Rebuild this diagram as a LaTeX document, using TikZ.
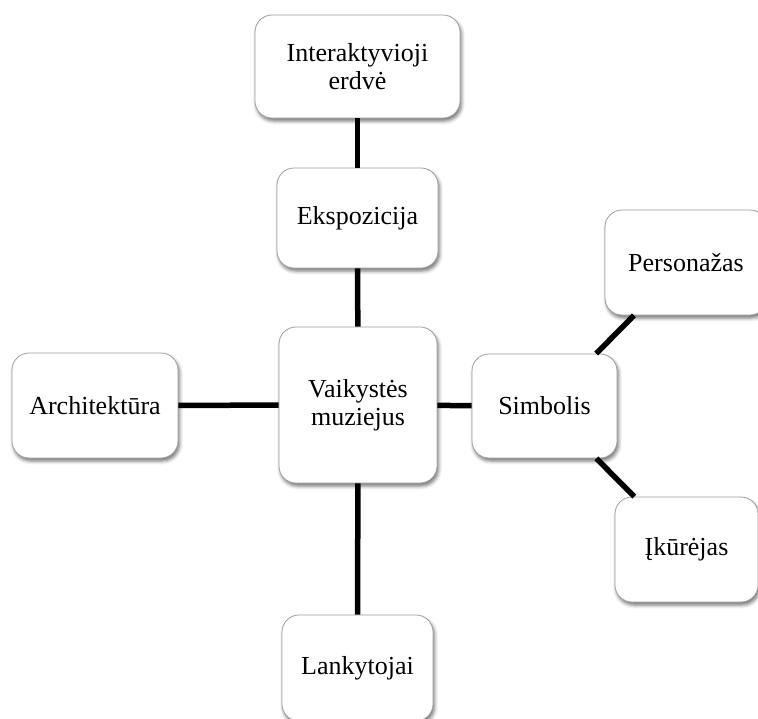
\documentclass[tikz,border=0pt]{standalone}
\usepackage{fontspec}
\setmainfont{Liberation Serif}
\usetikzlibrary{shadows.blur}
\begin{document}
\begin{tikzpicture}[x=1pt,y=-1pt,
  topic/.style={draw=gray!75, line width=0.8pt, fill=white, rounded corners=17pt,
    rectangle, inner sep=0pt, align=center,
    font=\fontsize{26}{27.5}\selectfont,
    blur shadow={shadow xshift=1.5pt, shadow yshift=-3pt, shadow blur radius=3.5pt, shadow opacity=55}},
  link/.style={line width=5.5pt, black}]
\useasboundingbox (0,0) rectangle (758,718);
\clip (0,0) rectangle (758,718);
% nodes of the map
\node[topic, minimum width=205pt, minimum height=103pt] (inter) at (357.5,66.5) {Interaktyvioji\\erdvė};
\node[topic, minimum width=161pt, minimum height=100pt] (ekspo) at (357.5,218) {Ekspozicija};
\node[topic, minimum width=158pt, minimum height=156pt] (vaik) at (358,405) {Vaikystės\\muziejus};
\node[topic, minimum width=166pt, minimum height=105pt] (arch) at (95,405.5) {Architektūra};
\node[topic, minimum width=145pt, minimum height=104pt] (simb) at (544.5,406) {Simbolis};
\node[topic, minimum width=162pt, minimum height=105pt] (pers) at (686,262.5) {Personažas};
\node[topic, minimum width=143pt, minimum height=105pt] (ikur) at (686.5,549.5) {Įkūrėjas};
\node[topic, minimum width=151pt, minimum height=106pt] (lank) at (357.5,668) {Lankytojai};
% connectors
\draw[link] (inter) -- (ekspo);
\draw[link] (ekspo) -- (vaik);
\draw[link] (vaik) -- (lank);
\draw[link] (arch) -- (vaik);
\draw[link] (vaik) -- (simb);
\draw[link] (simb) -- (pers);
\draw[link] (simb) -- (ikur);
\end{tikzpicture}
\end{document}
